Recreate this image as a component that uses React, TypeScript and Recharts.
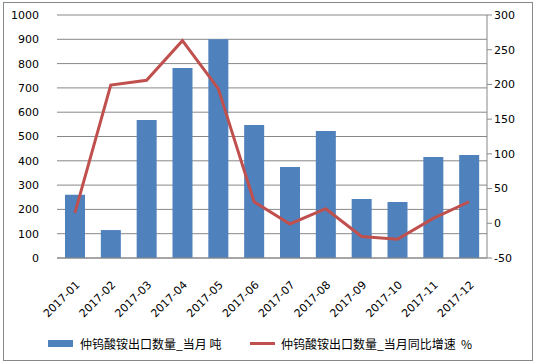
import { ComposedChart, Bar, Line, XAxis, YAxis, CartesianGrid, Legend } from 'recharts';

const months = ['2017-01', '2017-02', '2017-03', '2017-04', '2017-05', '2017-06', '2017-07', '2017-08', '2017-09', '2017-10', '2017-11', '2017-12'];
const exportTons = [260, 115, 568, 782, 900, 547, 375, 523, 243, 230, 416, 424];
const yoyGrowth = [15, 199, 206, 263, 194, 31, -1, 21, -19, -23, 7, 31];
const leftTicks = [0, 100, 200, 300, 400, 500, 600, 700, 800, 900, 1000];
const rightTicks = [-50, 0, 50, 100, 150, 200, 250, 300];

const BAR_NAME = '仲钨酸铵出口数量_当月 吨';
const LINE_NAME = '仲钨酸铵出口数量_当月同比增速  %';

const data = months.map((m, i) => ({ month: m, tons: exportTons[i], yoy: yoyGrowth[i] }));

const FONT = '"DejaVu Sans", Verdana, sans-serif';

function LegendContent() {
  return (
    <div style={{ display: 'flex', fontFamily: '"Noto Sans CJK SC", sans-serif', fontSize: 12, color: '#000', paddingLeft: 48, paddingTop: 6, whiteSpace: 'pre' }}>
      <div style={{ display: 'flex', alignItems: 'center', width: 202 }}>
        <span style={{ display: 'inline-block', width: 25, height: 7, background: '#4F81BD', marginRight: 7 }} />
        {BAR_NAME}
      </div>
      <div style={{ display: 'flex', alignItems: 'center' }}>
        <span style={{ display: 'inline-block', width: 25, height: 3, background: '#C0504D', marginRight: 6 }} />
        {LINE_NAME}
      </div>
    </div>
  );
}

export default function App() {
  return (
    <div style={{ position: 'absolute', left: 0, top: 0, width: 537, height: 364, background: '#fff' }}>
      <div style={{ position: 'absolute', left: 3, top: 2, width: 528, height: 357, border: '1px solid #888' }} />
      <ComposedChart
        width={537}
        height={364}
        data={data}
        margin={{ top: 15, right: 0, left: 0, bottom: 5 }}
      >
        <CartesianGrid yAxisId="left" vertical={false} stroke="#888" strokeWidth={1} />
        <XAxis
          dataKey="month"
          interval={0}
          height={71}
          tickLine={false}
          tickMargin={16}
          axisLine={{ stroke: '#888' }}
          tick={{ fontSize: 11, fill: '#000', fontFamily: FONT, angle: -45, textAnchor: 'end' } as any}
        />
        <YAxis
          yAxisId="left"
          domain={[0, 1000]}
          ticks={leftTicks}
          width={57}
          axisLine={false}
          tickLine={false}
          tick={{ fontSize: 11, fill: '#000', fontFamily: FONT }}
          tickMargin={12}
        />
        <YAxis
          yAxisId="right"
          orientation="right"
          domain={[-50, 300]}
          ticks={rightTicks}
          width={50}
          axisLine={{ stroke: '#888' }}
          tickLine={{ stroke: '#888' }}
          tickSize={5}
          tick={{ fontSize: 11, fill: '#000', fontFamily: FONT, textAnchor: 'start' } as any}
        />
        <Bar yAxisId="left" dataKey="tons" name={BAR_NAME} fill="#4F81BD" barSize={20} isAnimationActive={false} />
        <Line
          yAxisId="right"
          dataKey="yoy"
          name={LINE_NAME}
          type="linear"
          stroke="#C0504D"
          strokeWidth={3}
          dot={false}
          activeDot={false}
          isAnimationActive={false}
        />
        <Legend verticalAlign="bottom" height={30} content={() => <LegendContent />} />
      </ComposedChart>
    </div>
  );
}
